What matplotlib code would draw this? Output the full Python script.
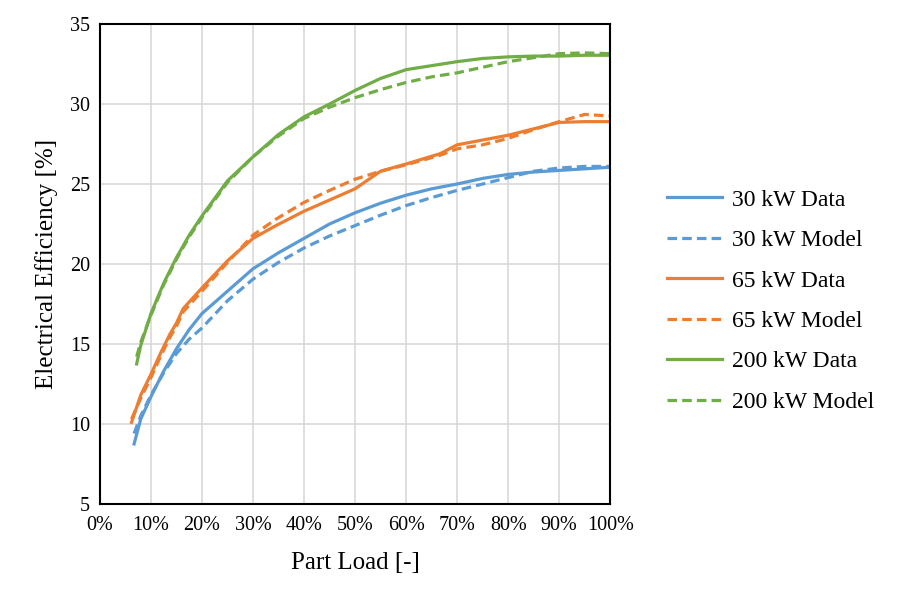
import matplotlib
matplotlib.use("Agg")
import matplotlib.pyplot as plt

# part load [fraction] and electrical efficiency [%]
load_30 = [0.067, 0.08, 0.10, 0.125, 0.15, 0.175, 0.20, 0.25, 0.30, 0.35, 0.40, 0.45, 0.50, 0.55, 0.60, 0.65, 0.70, 0.75, 0.80, 0.85, 0.90, 0.95, 1.00]
eff_30_data = [8.75, 10.3, 11.7, 13.3, 14.7, 15.9, 16.9, 18.3, 19.7, 20.7, 21.6, 22.5, 23.2, 23.8, 24.3, 24.7, 25.0, 25.35, 25.6, 25.75, 25.85, 25.95, 26.05]
eff_30_model = [9.4, 10.5, 11.8, 13.2, 14.4, 15.3, 16.0, 17.7, 19.05, 20.1, 21.0, 21.75, 22.4, 23.05, 23.65, 24.15, 24.6, 25.0, 25.4, 25.8, 26.0, 26.1, 26.1]

load_65 = [0.062, 0.08, 0.10, 0.12, 0.137, 0.15, 0.163, 0.18, 0.20, 0.25, 0.30, 0.345, 0.40, 0.45, 0.50, 0.55, 0.60, 0.667, 0.70, 0.75, 0.80, 0.85, 0.90, 0.95, 1.00]
eff_65_data = [10.1, 11.8, 13.1, 14.5, 15.6, 16.3, 17.2, 17.8, 18.5, 20.2, 21.6, 22.4, 23.3, 24.0, 24.7, 25.8, 26.25, 26.9, 27.45, 27.75, 28.05, 28.45, 28.85, 28.9, 28.9]
eff_65_model = [10.3, 11.6, 12.9, 14.3, 15.4, 16.1, 17.0, 17.6, 18.3, 20.1, 21.8, 22.8, 23.85, 24.6, 25.3, 25.8, 26.2, 26.8, 27.2, 27.45, 27.85, 28.4, 28.9, 29.35, 29.25]

load_200 = [0.072, 0.08, 0.10, 0.125, 0.15, 0.175, 0.20, 0.25, 0.30, 0.35, 0.40, 0.45, 0.50, 0.55, 0.60, 0.65, 0.70, 0.75, 0.80, 0.85, 0.90, 0.95, 1.00]
eff_200_data = [13.75, 14.9, 16.9, 18.8, 20.4, 21.8, 23.0, 25.2, 26.7, 28.1, 29.2, 30.0, 30.85, 31.6, 32.15, 32.4, 32.65, 32.85, 32.95, 33.0, 33.0, 33.05, 33.05]
eff_200_model = [14.2, 15.1, 16.8, 18.7, 20.3, 21.7, 22.9, 25.1, 26.7, 28.0, 29.1, 29.8, 30.4, 30.9, 31.35, 31.7, 31.95, 32.3, 32.65, 32.9, 33.15, 33.2, 33.15]

blue = "#5b9bd5"
orange = "#ed7d31"
green = "#70ad47"

plt.rcParams["font.family"] = ["Liberation Serif", "DejaVu Serif"]

fig = plt.figure(figsize=(9, 6.02), dpi=100)
ax = fig.add_axes([0.111, 0.163, 0.567, 0.797])

lw = 2.3
dash = (0, (3, 1.6))
ax.plot(load_30, eff_30_data, color=blue, lw=lw, label="30 kW Data")
ax.plot(load_30, eff_30_model, color=blue, lw=lw, ls=dash, label="30 kW Model")
ax.plot(load_65, eff_65_data, color=orange, lw=lw, label="65 kW Data")
ax.plot(load_65, eff_65_model, color=orange, lw=lw, ls=dash, label="65 kW Model")
ax.plot(load_200, eff_200_data, color=green, lw=lw, label="200 kW Data")
ax.plot(load_200, eff_200_model, color=green, lw=lw, ls=dash, label="200 kW Model")

ax.set_xlim(0, 1)
ax.set_ylim(5, 35)
xt = [i / 10 for i in range(11)]
ax.set_xticks(xt)
ax.set_xticklabels([f"{int(round(v * 100))}%" for v in xt])
ax.set_yticks(range(5, 36, 5))
ax.tick_params(axis="x", length=0, labelsize=14.5, pad=9)
ax.tick_params(axis="y", length=0, labelsize=14.5, pad=7)
ax.grid(True, color="#d9d9d9", lw=1.2)
ax.set_axisbelow(True)
for s in ax.spines.values():
    s.set_color("black")
    s.set_linewidth(1.5)

ax.set_xlabel("Part Load [-]", fontsize=18, labelpad=12)
ax.set_ylabel("Electrical Efficiency [%]", fontsize=18, labelpad=9)

ax.legend(loc="center left", bbox_to_anchor=(0.741, 0.500), bbox_transform=fig.transFigure,
          frameon=False, borderpad=0, borderaxespad=0,
          fontsize=17, handlelength=2.35, handletextpad=0.42, labelspacing=0.8)

fig.savefig("out.png", dpi=100)
